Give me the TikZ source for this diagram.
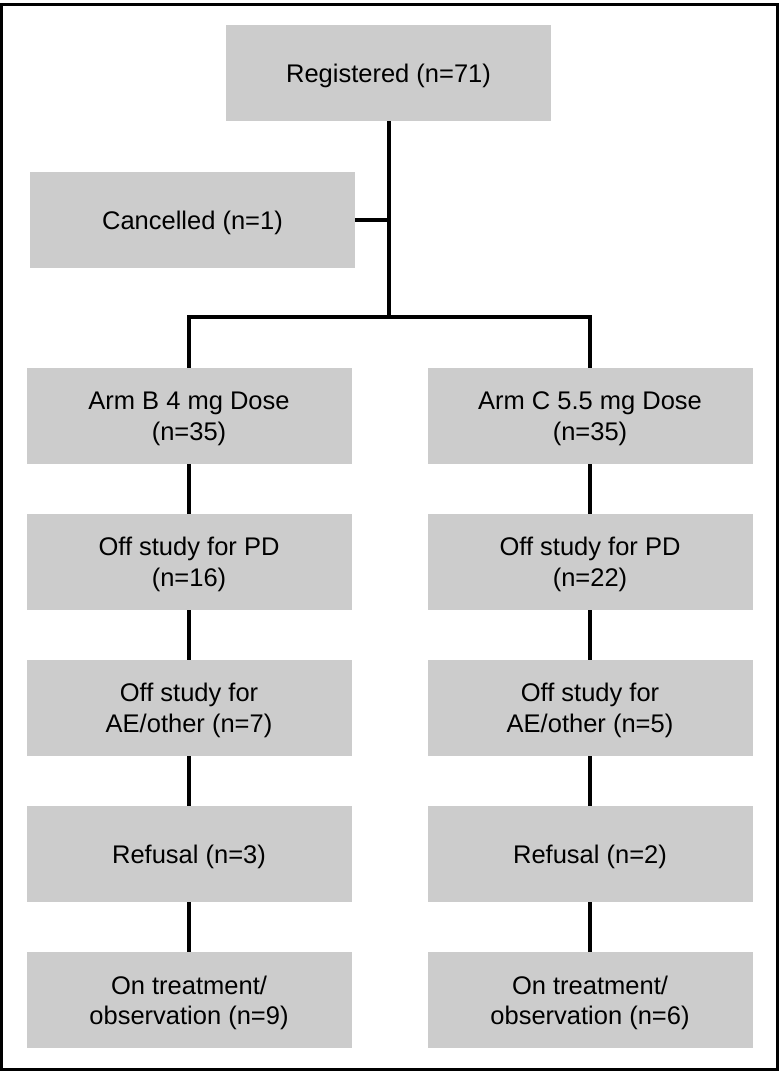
\documentclass[tikz,border=0pt]{standalone}
\usepackage{fontspec}
\setmainfont{Liberation Sans}
\begin{document}
\begin{tikzpicture}[x=1pt,y=-1pt,
  box/.style={fill=boxgray, draw=none, minimum width=325pt, minimum height=96pt,
    inner sep=0pt, align=center, text depth=0pt, font=\fontsize{25.5}{30.5}\selectfont},
  conn/.style={line width=3.1pt, black}]
\definecolor{boxgray}{RGB}{204,204,204}
\useasboundingbox (0,0) rectangle (780,1071);
\draw[line width=3pt] (1.5,4.5) rectangle (777.5,1069.5);
% boxes
\node[box] (reg) at (388.5,73) {Registered (n=71)};
\node[box] (can) at (192.5,220) {Cancelled (n=1)};
\node[box] (b1) at (189,416) {Arm B 4 mg Dose\\(n=35)};
\node[box] (c1) at (590,416) {Arm C 5.5 mg Dose\\(n=35)};
\node[box] (b2) at (189,562) {Off study for PD\\(n=16)};
\node[box] (c2) at (590,562) {Off study for PD\\(n=22)};
\node[box] (b3) at (189,708) {Off study for\\AE/other (n=7)};
\node[box] (c3) at (590,708) {Off study for\\AE/other (n=5)};
\node[box] (b4) at (189,854) {Refusal (n=3)};
\node[box] (c4) at (590,854) {Refusal (n=2)};
\node[box] (b5) at (189,1000) {On treatment/\\observation (n=9)};
\node[box] (c5) at (590,1000) {On treatment/\\observation (n=6)};
% connectors
\coordinate (split) at (389,317);
\coordinate (lb) at (189,317);
\coordinate (rb) at (590,317);
\draw[conn] (reg.south -| split) -- (split);
\draw[conn] (can.east) -- (can.east -| split);
\draw[conn] ([xshift=-1.55pt]lb) -- ([xshift=1.55pt]rb);
\draw[conn] (lb) -- (b1.north);
\draw[conn] (rb) -- (c1.north);
\draw[conn] (b1) -- (b2);
\draw[conn] (b2) -- (b3);
\draw[conn] (b3) -- (b4);
\draw[conn] (b4) -- (b5);
\draw[conn] (c1) -- (c2);
\draw[conn] (c2) -- (c3);
\draw[conn] (c3) -- (c4);
\draw[conn] (c4) -- (c5);
\end{tikzpicture}
\end{document}
